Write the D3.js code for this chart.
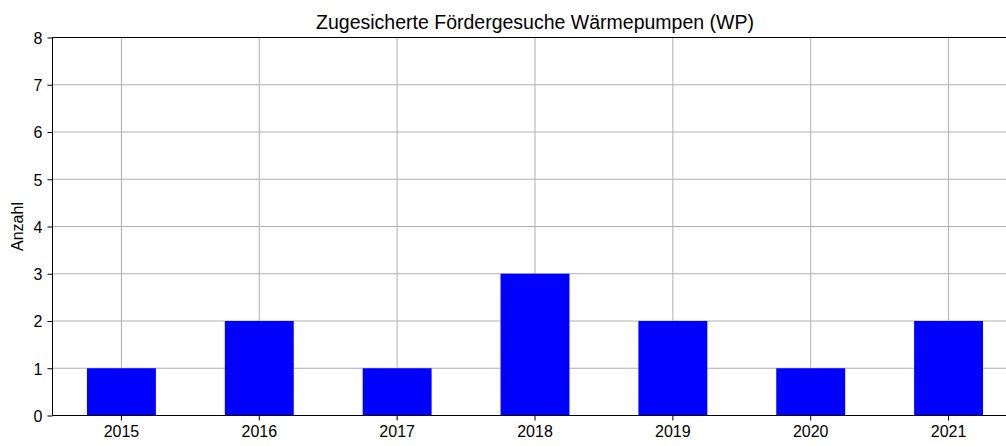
<!DOCTYPE html>
<html><head><meta charset="utf-8">
<script src="https://cdn.jsdelivr.net/npm/d3@7"></script>
<style>body{margin:0;background:#fff}svg{display:block;font-family:"Liberation Sans",Arial,sans-serif}</style>
</head><body>
<svg id="c" width="1006" height="446"></svg>
<script>
const categories = ["2015","2016","2017","2018","2019","2020","2021"];
const values = [1,2,1,3,2,1,2];
const yTicks = [0,1,2,3,4,5,6,7,8];
const title = "Zugesicherte Fördergesuche Wärmepumpen (WP)";
const yLabel = "Anzahl";

const svg = d3.select("#c");
const L = 52.5, R = 1017.5, T = 37.5, B = 415.5;
const x = d3.scaleBand().domain(categories).range([L, R]).paddingInner(0.5).paddingOuter(0.25);
const y = d3.scaleLinear().domain([0, 8]).range([B, T]);

// grid
const g = svg.append("g");
g.selectAll(".hg").data(yTicks).join("line")
  .attr("x1", L).attr("x2", R).attr("y1", d => y(d)).attr("y2", d => y(d))
  .attr("stroke", "#b0b0b0").attr("stroke-width", 1);
g.selectAll(".vg").data(categories).join("line")
  .attr("x1", d => x(d) + x.bandwidth()/2).attr("x2", d => x(d) + x.bandwidth()/2)
  .attr("y1", T).attr("y2", B)
  .attr("stroke", "#b0b0b0").attr("stroke-width", 1);

// bars
svg.selectAll(".bar").data(values).join("rect")
  .attr("x", (d, i) => x(categories[i]))
  .attr("width", x.bandwidth())
  .attr("y", d => y(d))
  .attr("height", d => y(0) - y(d))
  .attr("fill", "#0000ff");

// axes
const yAxis = d3.axisLeft(y).tickValues(yTicks).tickFormat(d3.format("d")).tickSize(5).tickPadding(5);
const ya = svg.append("g").attr("transform", `translate(${L},0)`).call(yAxis);
const xAxis = d3.axisBottom(x).tickSize(5).tickPadding(5);
const xa = svg.append("g").attr("transform", `translate(0,${B})`).call(xAxis);
[ya, xa].forEach(a => {
  a.select(".domain").remove();
  a.selectAll("text").attr("font-size", 16).attr("fill", "#000").attr("font-family", "Liberation Sans, Arial, sans-serif");
  a.selectAll("line").attr("stroke", "#000");
});
ya.selectAll("text").attr("dy", "0.36em");

// spines
svg.append("line").attr("x1", L).attr("x2", L).attr("y1", T).attr("y2", B).attr("stroke", "#000");
svg.append("line").attr("x1", L).attr("x2", R).attr("y1", B).attr("y2", B).attr("stroke", "#000");
svg.append("line").attr("x1", L).attr("x2", R).attr("y1", T).attr("y2", T).attr("stroke", "#000");
svg.append("line").attr("x1", R).attr("x2", R).attr("y1", T).attr("y2", B).attr("stroke", "#000");

// title
svg.append("text").attr("x", (L + R) / 2).attr("y", 29).attr("text-anchor", "middle")
  .attr("font-size", 19.5).text(title);
svg.append("text").attr("transform", `translate(22.5,${(T + B) / 2}) rotate(-90)`)
  .attr("text-anchor", "middle").attr("font-size", 16).text(yLabel);
</script>
</body></html>
